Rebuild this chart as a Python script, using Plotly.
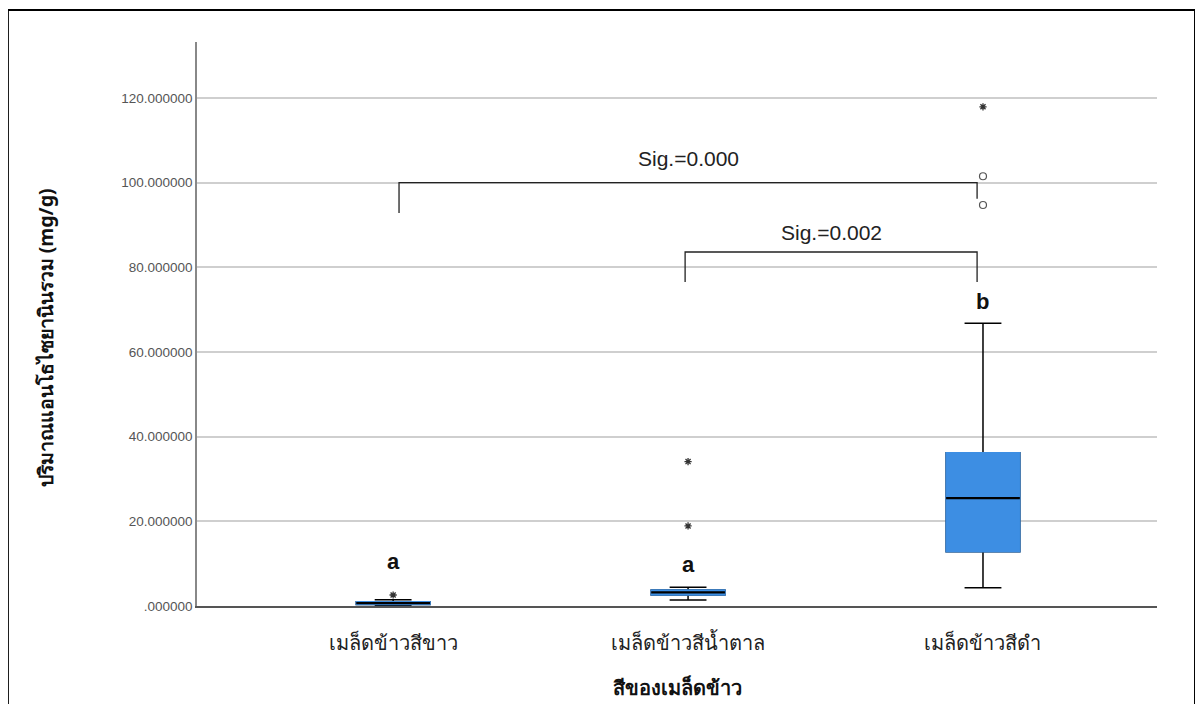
import plotly.graph_objects as go

categories = ["เมล็ดข้าวสีขาว", "เมล็ดข้าวสีน้ำตาล", "เมล็ดข้าวสีดำ"]
q1 = [0.35, 2.6, 12.8]
median = [0.7, 3.2, 25.5]
q3 = [1.0, 3.8, 36.2]
lower_whisker = [0.1, 1.4, 4.3]
upper_whisker = [1.5, 4.4, 66.8]

# outliers: (category index, value)
star_cat = [0, 1, 1, 2]
star_val = [2.6, 18.9, 34.1, 117.9]
circle_cat = [2, 2]
circle_val = [101.5, 94.7]

letters = ["a", "a", "b"]
letter_y = [10.5, 9.7, 72.0]

# significance brackets: left x, right x, bar y, left leg bottom, right leg bottom, label, label y
brackets = [
    dict(x0=0.02, x1=1.98, y=100.0, y0=92.8, y1=96.2, label="Sig.=0.000", ly=105.8),
    dict(x0=0.99, x1=1.98, y=83.6, y0=76.5, y1=76.5, label="Sig.=0.002", ly=88.3),
]

yticks = [0, 20, 40, 60, 80, 100, 120]
yticktext = [".000000", "20.000000", "40.000000", "60.000000", "80.000000", "100.000000", "120.000000"]

y_title = "ปริมาณแอนโธไซยานินรวม (mg/g)"
x_title = "สีของเมล็ดข้าว"

pos = list(range(len(categories)))
blue = "#3d8ee3"

fig = go.Figure()
# full box with black whiskers
fig.add_trace(go.Box(
    x=pos, q1=q1, median=median, q3=q3,
    lowerfence=lower_whisker, upperfence=upper_whisker,
    fillcolor=blue, line=dict(color="black", width=1.5),
    width=0.25, whiskerwidth=0.5, boxpoints=False, showlegend=False,
    hoverinfo="skip",
))
# blue box body on top (no black border)
fig.add_trace(go.Box(
    x=pos, q1=q1, median=median, q3=q3,
    lowerfence=q1, upperfence=q3,
    fillcolor=blue, line=dict(color=blue, width=1.5),
    width=0.25, whiskerwidth=0, boxpoints=False, showlegend=False,
    hoverinfo="skip",
))
# black median line
fig.add_trace(go.Box(
    x=pos, q1=median, median=median, q3=median,
    lowerfence=median, upperfence=median,
    fillcolor="black", line=dict(color="black", width=2.2),
    width=0.25, whiskerwidth=0, boxpoints=False, showlegend=False,
    hoverinfo="skip",
))
fig.add_trace(go.Scatter(
    x=star_cat, y=star_val, mode="markers",
    marker=dict(symbol="asterisk-open", size=6, color="#333", line=dict(width=1.3, color="#333")),
    showlegend=False, hoverinfo="skip",
))
fig.add_trace(go.Scatter(
    x=circle_cat, y=circle_val, mode="markers",
    marker=dict(symbol="circle-open", size=7, color="#555", line=dict(width=1.2, color="#555")),
    showlegend=False, hoverinfo="skip",
))

for i, (t, ly) in enumerate(zip(letters, letter_y)):
    fig.add_annotation(x=pos[i], y=ly, text=f"<b>{t}</b>", showarrow=False,
                       font=dict(family="Liberation Sans Narrow, Liberation Sans, Arial", size=22, color="#111"))

for b in brackets:
    fig.add_trace(go.Scatter(
        x=[b["x0"], b["x0"], b["x1"], b["x1"]],
        y=[b["y0"], b["y"], b["y"], b["y1"]],
        mode="lines", line=dict(color="#222", width=1.3),
        showlegend=False, hoverinfo="skip",
    ))
    fig.add_annotation(x=(b["x0"] + b["x1"]) / 2, y=b["ly"], text=b["label"], showarrow=False,
                       font=dict(family="Liberation Sans, Arial", size=21, color="#222"))

# axis titles as annotations for exact placement
fig.add_annotation(xref="paper", yref="paper", x=-0.158, y=0.475, xanchor="center", yanchor="middle",
                   text=f"<b>{y_title}</b>", textangle=-90, showarrow=False,
                   font=dict(size=19.5, color="#111"))
fig.add_annotation(xref="paper", yref="paper", x=0.5, y=-0.145, xanchor="center", yanchor="middle",
                   text=f"<b>{x_title}</b>", showarrow=False, font=dict(size=20, color="#111"))

# outer frame
fig.add_shape(type="rect", xref="paper", yref="paper", x0=-0.197, x1=1.0396, y0=-0.18, y1=1.0567,
              line=dict(color="black", width=2), fillcolor="rgba(0,0,0,0)", layer="below")

fig.update_layout(
    width=1203, height=704,
    margin=dict(l=189, r=54, t=34, b=106),
    paper_bgcolor="white", plot_bgcolor="white",
    font=dict(family="Noto Sans, Liberation Sans, Arial", color="#222"),
    xaxis=dict(
        range=[-0.665, 2.59], tickvals=pos, ticktext=categories,
        showgrid=False, zeroline=False, showline=True, linecolor="#555", linewidth=1.5,
        ticks="", ticklabelstandoff=18,
        tickfont=dict(size=20, color="#222"),
    ),
    yaxis=dict(
        range=[0, 133.2], tickvals=yticks, ticktext=yticktext,
        showgrid=True, gridcolor="#cfcfcf", gridwidth=1.5, zeroline=False,
        showline=True, linecolor="#888", linewidth=1.5, ticks="",
        tickfont=dict(family="Liberation Sans, Arial", size=13.5, color="#555"),
    ),
)

fig.write_html("out.html")
